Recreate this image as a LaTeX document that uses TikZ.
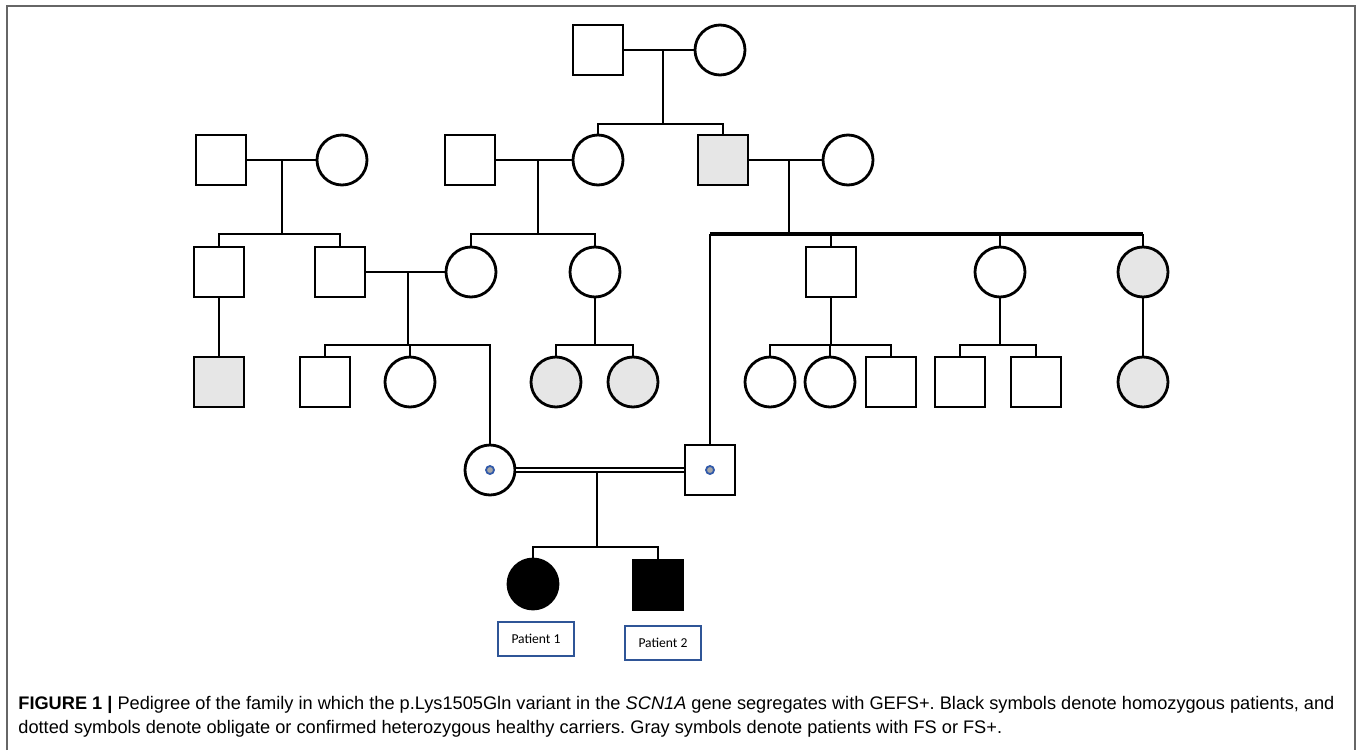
\documentclass[tikz,border=0pt]{standalone}
\usepackage{fontspec}
\setmainfont{Liberation Sans}
\newfontfamily\calibri{Carlito}
\usepackage{tikz}
\definecolor{fsgray}{RGB}{230,230,230}
\definecolor{boxblue}{RGB}{47,85,151}
\definecolor{dotblue}{RGB}{50,90,170}
\frenchspacing
\tikzset{
  male/.style={draw, line width=1.4pt, minimum size=25pt, inner sep=0pt},
  female/.style={draw, circle, line width=1.4pt, minimum size=25pt, inner sep=0pt},
  fs/.style={fill=fsgray},
  hom/.style={fill=black},
  tie/.style={line width=1.2pt},
  carrier/.style={draw=dotblue, fill=gray!70, circle, line width=0.9pt, minimum size=4pt, inner sep=0pt},
  patbox/.style={draw=boxblue, line width=1pt, minimum width=38pt, minimum height=17pt, inner sep=0pt, font=\calibri\fontsize{6.8pt}{8pt}\selectfont},
  caption/.style={anchor=base west, inner sep=0pt, font=\fontsize{9.1pt}{11pt}\selectfont}
}

\begin{document}
\begin{tikzpicture}[x=0.5pt, y=-0.5pt]
    \useasboundingbox (0, 0) rectangle (1360, 750);
    \draw[gray!80!black, line width=1pt] (7, 750) -- (7, 6) -- (1355, 6) -- (1355, 750);

    \node[male] at (598, 50) (I1) {};
    \node[female] at (720, 50) (I2) {};

    \node[male] at (221, 160) (II1) {};
    \node[female] at (342, 160) (II2) {};
    \node[male] at (470, 160) (II3) {};
    \node[female] at (598, 160) (II4) {};
    \node[male, fs] at (723, 160) (II5) {};
    \node[female] at (848, 160) (II6) {};

    \node[male] at (219, 272) (III1) {};
    \node[male] at (340, 272) (III2) {};
    \node[female] at (471, 272) (III3) {};
    \node[female] at (595, 272) (III4) {};
    \node[male] at (710, 470) (III5) {};
    \node[male] at (831, 272) (III6) {};
    \node[female] at (1000, 272) (III7) {};
    \node[female, fs] at (1143, 272) (III8) {};

    \node[male, fs] at (219, 382) (IV1) {};
    \node[male] at (325, 382) (IV2) {};
    \node[female] at (410, 382) (IV3) {};
    \node[female] at (490, 470) (IV4) {};
    \node[female, fs] at (556, 382) (IV5) {};
    \node[female, fs] at (633, 382) (IV6) {};
    \node[female] at (770, 382) (IV7) {};
    \node[female] at (830, 382) (IV8) {};
    \node[male] at (891, 382) (IV9) {};
    \node[male] at (960, 382) (IV10) {};
    \node[male] at (1036, 382) (IV11) {};
    \node[female, fs] at (1143, 382) (IV12) {};

    \node[female, hom] at (533, 584) (V1) {};
    \node[male, hom] at (658, 585) (V2) {};

    \node[carrier] at (IV4.center) (dot1) {};
    \node[carrier] at (III5.center) (dot2) {};

    \node[patbox] at (536, 639) (P1) {Patient 1};
    \node[patbox] at (663, 643) (P2) {Patient 2};

    \coordinate (m1) at (663, 50);   \coordinate (s1) at (663, 124);
    \coordinate (m2) at (282, 160);  \coordinate (s2) at (282, 234);
    \coordinate (m3) at (538, 160);  \coordinate (s3) at (538, 234);
    \coordinate (m4) at (789, 160);  \coordinate (s4) at (789, 234);
    \coordinate (m5) at (408, 272);  \coordinate (s5) at (408, 345);
    \coordinate (s6) at (595, 345);
    \coordinate (s7) at (831, 345);
    \coordinate (s8) at (1000, 345);
    \coordinate (m9) at (597, 472);  \coordinate (s9) at (597, 547);

    \draw[tie] (I1) -- (I2);
    \draw[tie] (m1) -- (s1);
    \draw[tie] (II4) |- (s1) -| (II5);

    \draw[tie] (II1) -- (II2);
    \draw[tie] (m2) -- (s2);
    \draw[tie] (III1) |- (s2) -| (III2);

    \draw[tie] (II3) -- (II4);
    \draw[tie] (m3) -- (s3);
    \draw[tie] (III3) |- (s3) -| (III4);

    \draw[tie] (II5) -- (II6);
    \draw[tie] (m4) -- (s4);
    \draw[tie, line width=1.9pt] (III5 |- s4) -- (III8 |- s4);
    \draw[tie] (III5) -- (III5 |- s4);
    \draw[tie] (III6) -- (III6 |- s4);
    \draw[tie] (III7) -- (III7 |- s4);
    \draw[tie] (III8) -- (III8 |- s4);

    \draw[tie] (III1) -- (IV1);
    \draw[tie] (III2) -- (III3);
    \draw[tie] (m5) -- (s5);
    \draw[tie] (IV2) |- (s5) -| (IV4);
    \draw[tie] (IV3) -- (IV3 |- s5);

    \draw[tie] (III4) -- (s6);
    \draw[tie] (IV5) |- (s6) -| (IV6);

    \draw[tie] (III6) -- (s7);
    \draw[tie] (IV7) |- (s7) -| (IV9);
    \draw[tie] (IV8) -- (IV8 |- s7);

    \draw[tie] (III7) -- (s8);
    \draw[tie] (IV10) |- (s8) -| (IV11);

    \draw[tie] (III8) -- (IV12);

    \draw[line width=1.1pt, double distance=1.2pt] (IV4) -- (III5);
    \draw[tie] (m9) -- (s9);
    \draw[tie] (V1) |- (s9) -| (V2);

    \node[caption] at (18, 709) (cap1) {\textbf{FIGURE 1 |} Pedigree of the family in which the p.Lys1505Gln variant in the \textit{SCN1A} gene segregates with GEFS+. Black symbols denote homozygous patients, and};
    \node[caption] at (18, 733) (cap2) {dotted symbols denote obligate or confirmed heterozygous healthy carriers. Gray symbols denote patients with FS or FS+.};
\end{tikzpicture}
\end{document}
